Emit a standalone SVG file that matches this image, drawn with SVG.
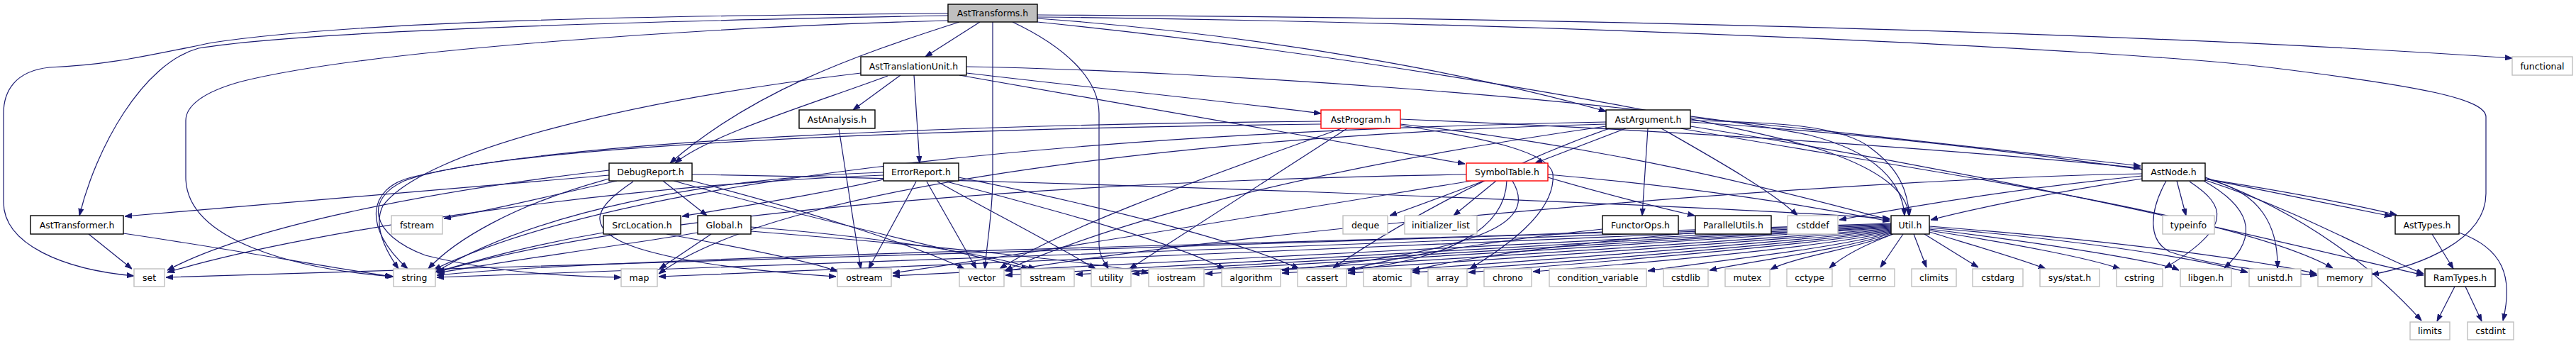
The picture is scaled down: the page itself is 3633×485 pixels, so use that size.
<svg xmlns="http://www.w3.org/2000/svg" width="3633" height="485" viewBox="0 0 3633 485">
<style>
.e{fill:none;stroke:#191970;stroke-width:1.2;marker-end:url(#a)}
.n rect{fill:#fff;stroke:#000;stroke-width:1.4}
.n.s rect{stroke:#bfbfbf}
.n.t rect{stroke:#ff0000}
.n.r rect{fill:#bfbfbf}
.n text{font-family:"DejaVu Sans","Liberation Sans",sans-serif;font-size:12.5px;text-anchor:middle;fill:#000}
</style>
<defs>
<marker id="a" markerWidth="10" markerHeight="8" refX="10" refY="4" orient="auto" markerUnits="userSpaceOnUse">
<path d="M0,0.5 L10,4 L0,7.5 z" fill="#191970" stroke="#191970" stroke-width="1"/>
</marker>
</defs>
<rect width="3633" height="485" fill="#fff"/>
<g id="edges">
<path class="e" d="M1382,31 L1305,80"/>
<path class="e" d="M1337,22 C1000,28 450,40 280,68 C200,90 135,210 112,304"/>
<path class="e" d="M1337,19 C900,22 500,30 300,60 C200,80 150,92 70,95 C20,100 5,130 5,160 L5,285 C5,345 90,380 189,389"/>
<path class="e" d="M1337,29 C1000,38 520,70 340,115 C285,130 262,150 262,170 L262,250 C262,340 420,380 555,390"/>
<path class="e" d="M1353,31 C1200,80 1060,130 945,230"/>
<path class="e" d="M1400,31 L1400,250 C1400,300 1392,340 1389,379"/>
<path class="e" d="M1428,31 C1500,65 1550,110 1550,160 L1550,345 C1550,360 1558,370 1563,379"/>
<path class="e" d="M1463,26 C1800,50 2100,110 2265,157"/>
<path class="e" d="M1463,31 C1900,75 2450,170 2580,215 C2650,240 2690,270 2692,304"/>
<path class="e" d="M1463,21 C2200,25 3000,45 3543,82"/>
<path class="e" d="M1463,24 C2200,32 3000,70 3200,95 C3420,122 3506,140 3506,165 L3506,273 C3506,340 3410,375 3345,387"/>
<path class="e" d="M1270,106 L1203,155"/>
<path class="e" d="M1289,106 L1297,230"/>
<path class="e" d="M1252,107 C1150,145 1000,190 952,230"/>
<path class="e" d="M1363,103 C1550,125 1750,145 1863,160"/>
<path class="e" d="M1353,106 C1600,150 1900,200 2066,231"/>
<path class="e" d="M1363,94 C1700,100 2300,140 2550,190 C2650,215 2683,260 2686,304"/>
<path class="e" d="M1214,103 C900,140 600,210 540,290 C525,320 545,355 562,379"/>
<path class="e" d="M1183,181 L1214,379"/>
<path class="e" d="M1863,171 C1400,175 800,195 580,250 C520,265 510,320 575,379"/>
<path class="e" d="M1863,175 C1300,182 700,205 570,255 C515,280 520,330 600,360 C700,385 800,390 876,391"/>
<path class="e" d="M1892,181 C1700,250 1500,320 1410,379"/>
<path class="e" d="M1900,181 L1593,379"/>
<path class="e" d="M1975,168 C2400,185 2800,215 3019,237"/>
<path class="e" d="M1975,175 C2300,210 2550,280 2665,310"/>
<path class="e" d="M1975,177 C2100,195 2185,215 2190,245 C2195,300 2120,350 2073,379"/>
<path class="e" d="M2093,255 C2040,275 2000,290 1960,304"/>
<path class="e" d="M2110,255 L2050,304"/>
<path class="e" d="M2125,255 C2123,320 2050,365 1901,381"/>
<path class="e" d="M2133,255 C2160,300 2140,350 1808,381"/>
<path class="e" d="M2183,250 C2250,270 2330,290 2390,304"/>
<path class="e" d="M2183,246 C2400,265 2550,290 2665,312"/>
<path class="e" d="M2068,246 C1500,255 900,300 616,384"/>
<path class="e" d="M2075,255 C1800,300 1500,350 1259,385"/>
<path class="e" d="M2391,328 C2200,345 2050,365 1992,382"/>
<path class="e" d="M2260,323 C2100,340 1950,365 1901,382"/>
<path class="e" d="M2260,327 C1800,345 900,360 616,388"/>
<path class="e" d="M2293,181 L2165,230"/>
<path class="e" d="M2324,181 L2316,304"/>
<path class="e" d="M2343,181 C2420,225 2500,270 2535,304"/>
<path class="e" d="M2384,166 C2600,185 2850,215 3019,234"/>
<path class="e" d="M2384,172 C2800,200 3200,260 3380,303"/>
<path class="e" d="M2384,170 C2500,172 2600,176 2640,210 C2680,240 2690,270 2693,304"/>
<path class="e" d="M2370,181 C2700,240 3150,300 3290,378"/>
<path class="e" d="M2384,178 C2900,260 3250,350 3418,388"/>
<path class="e" d="M2265,172 C1600,185 900,240 612,380"/>
<path class="e" d="M2265,175 C1700,190 1100,260 929,386"/>
<path class="e" d="M2265,178 C1900,230 1600,300 1418,381"/>
<path class="e" d="M2270,181 C2100,240 1950,330 1880,378"/>
<path class="e" d="M3021,252 C2900,270 2780,295 2723,310"/>
<path class="e" d="M3021,248 C2850,265 2700,290 2594,310"/>
<path class="e" d="M3070,255 L3083,304"/>
<path class="e" d="M3088,256 C3140,290 3150,320 3053,378"/>
<path class="e" d="M3108,255 C3170,290 3190,330 3137,378"/>
<path class="e" d="M3110,252 C3190,270 3213,320 3212,378"/>
<path class="e" d="M3055,255 C3030,300 3030,340 3060,355 C3120,375 3200,383 3268,388"/>
<path class="e" d="M3110,250 C3250,300 3350,380 3415,452"/>
<path class="e" d="M3110,252 C3200,270 3300,290 3373,305"/>
<path class="e" d="M3021,245 C2600,252 1800,320 1418,382"/>
<path class="e" d="M3430,330 L3460,379"/>
<path class="e" d="M3468,328 C3530,350 3545,390 3530,452"/>
<path class="e" d="M3462,404 L3437,453"/>
<path class="e" d="M3477,404 L3500,453"/>
<path class="e" d="M2670,330 C2630,345 2600,360 2580,378"/>
<path class="e" d="M2684,330 L2652,377"/>
<path class="e" d="M2699,330 L2717,377"/>
<path class="e" d="M2714,330 L2790,377"/>
<path class="e" d="M2721,327 C2780,345 2850,365 2885,379"/>
<path class="e" d="M2721,325 C2850,345 2950,365 2990,379"/>
<path class="e" d="M2721,323 C2900,345 3050,370 3073,381"/>
<path class="e" d="M2721,321 C2950,340 3100,365 3170,384"/>
<path class="e" d="M2721,319 C3000,340 3200,370 3267,386"/>
<path class="e" d="M2669,330 C2620,350 2530,362 2497,380"/>
<path class="e" d="M2667,329 C2600,352 2470,368 2411,381"/>
<path class="e" d="M2667,328 C2580,352 2400,370 2324,382"/>
<path class="e" d="M2667,327 C2560,350 2300,372 2162,383"/>
<path class="e" d="M2667,326 C2540,348 2200,374 2071,384"/>
<path class="e" d="M2667,325 C2520,346 2150,374 1992,384"/>
<path class="e" d="M2667,324 C2500,344 2050,376 1901,385"/>
<path class="e" d="M2667,323 C2480,342 1950,376 1808,385"/>
<path class="e" d="M2667,322 C2460,340 1850,377 1700,386"/>
<path class="e" d="M2667,321 C2440,338 1750,378 1597,386"/>
<path class="e" d="M2667,320 C2420,336 1680,378 1517,387"/>
<path class="e" d="M2667,319 C2400,334 1580,379 1418,388"/>
<path class="e" d="M2667,318 C2380,332 1450,380 1259,389"/>
<path class="e" d="M2667,317 C2360,330 1150,382 929,390"/>
<path class="e" d="M2667,316 C2340,328 850,384 616,391"/>
<path class="e" d="M2667,315 C2320,326 500,386 234,391"/>
<path class="e" d="M859,247 L176,305"/>
<path class="e" d="M870,255 C780,275 700,295 626,308"/>
<path class="e" d="M859,252 C720,290 640,340 604,379"/>
<path class="e" d="M859,240 C600,270 350,320 236,381"/>
<path class="e" d="M935,255 L997,304"/>
<path class="e" d="M893,256 C850,285 810,320 900,350 C980,375 1100,385 1179,390"/>
<path class="e" d="M950,255 C1150,310 1350,355 1450,379"/>
<path class="e" d="M976,255 C1150,300 1300,350 1360,379"/>
<path class="e" d="M976,246 C1500,255 2300,285 2665,308"/>
<path class="e" d="M1003,330 L930,379"/>
<path class="e" d="M984,328 C850,350 700,370 617,385"/>
<path class="e" d="M1059,320 C1250,335 1400,360 1460,379"/>
<path class="e" d="M1059,326 C1300,345 1550,370 1620,385"/>
<path class="e" d="M851,328 C750,345 680,365 617,383"/>
<path class="e" d="M940,330 C1050,350 1150,370 1181,383"/>
<path class="e" d="M1246,253 C1150,275 1050,290 962,305"/>
<path class="e" d="M1292,256 L1225,379"/>
<path class="e" d="M1307,256 L1377,379"/>
<path class="e" d="M1322,256 C1400,300 1480,340 1545,379"/>
<path class="e" d="M1335,256 C1500,300 1650,340 1727,379"/>
<path class="e" d="M1352,250 C1550,290 1750,340 1832,379"/>
<path class="e" d="M1246,243 C1000,250 750,300 614,384"/>
<path class="e" d="M1246,247 C900,260 450,320 236,384"/>
<path class="e" d="M174,329 C350,355 450,375 553,390"/>
<path class="e" d="M125,330 L186,379"/>
<path class="e" d="M3110,254 C3250,300 3350,360 3418,386"/>
</g>
<g id="n_AstTransforms" class="n r"><rect x="1337" y="6" width="126" height="25"/><text x="1400" y="23">AstTransforms.h</text></g>
<g id="n_AstTranslationUnit" class="n"><rect x="1214" y="80" width="149" height="26"/><text x="1288.5" y="98">AstTranslationUnit.h</text></g>
<g id="n_functional" class="n s"><rect x="3543" y="80" width="85" height="26"/><text x="3585.5" y="98">functional</text></g>
<g id="n_AstAnalysis" class="n"><rect x="1127" y="155" width="107" height="26"/><text x="1180.5" y="173">AstAnalysis.h</text></g>
<g id="n_AstProgram" class="n t"><rect x="1863" y="155" width="112" height="26"/><text x="1919" y="173">AstProgram.h</text></g>
<g id="n_AstArgument" class="n"><rect x="2265" y="155" width="119" height="26"/><text x="2324.5" y="173">AstArgument.h</text></g>
<g id="n_DebugReport" class="n"><rect x="859" y="230" width="117" height="25"/><text x="917.5" y="247">DebugReport.h</text></g>
<g id="n_ErrorReport" class="n"><rect x="1246" y="230" width="106" height="25"/><text x="1299" y="247">ErrorReport.h</text></g>
<g id="n_SymbolTable" class="n t"><rect x="2068" y="230" width="115" height="25"/><text x="2125.5" y="247">SymbolTable.h</text></g>
<g id="n_AstNode" class="n"><rect x="3021" y="230" width="89" height="25"/><text x="3065.5" y="247">AstNode.h</text></g>
<g id="n_AstTransformer" class="n"><rect x="43" y="304" width="131" height="26"/><text x="108.5" y="322">AstTransformer.h</text></g>
<g id="n_fstream" class="n s"><rect x="552" y="304" width="72" height="26"/><text x="588" y="322">fstream</text></g>
<g id="n_SrcLocation" class="n"><rect x="851" y="304" width="109" height="26"/><text x="905.5" y="322">SrcLocation.h</text></g>
<g id="n_Global" class="n"><rect x="984" y="304" width="75" height="26"/><text x="1021.5" y="322">Global.h</text></g>
<g id="n_deque" class="n s"><rect x="1894" y="304" width="63" height="26"/><text x="1925.5" y="322">deque</text></g>
<g id="n_initializer_list" class="n s"><rect x="1981" y="304" width="102" height="26"/><text x="2032" y="322">initializer_list</text></g>
<g id="n_FunctorOps" class="n"><rect x="2260" y="304" width="107" height="26"/><text x="2313.5" y="322">FunctorOps.h</text></g>
<g id="n_ParallelUtils" class="n"><rect x="2391" y="304" width="107" height="26"/><text x="2444.5" y="322">ParallelUtils.h</text></g>
<g id="n_cstddef" class="n s"><rect x="2521" y="304" width="71" height="26"/><text x="2556.5" y="322">cstddef</text></g>
<g id="n_Util" class="n"><rect x="2667" y="304" width="54" height="26"/><text x="2694" y="322">Util.h</text></g>
<g id="n_typeinfo" class="n s"><rect x="3050" y="304" width="73" height="26"/><text x="3086.5" y="322">typeinfo</text></g>
<g id="n_AstTypes" class="n"><rect x="3378" y="304" width="90" height="26"/><text x="3423" y="322">AstTypes.h</text></g>
<g id="n_set" class="n s"><rect x="189" y="379" width="43" height="25"/><text x="210.5" y="396">set</text></g>
<g id="n_string" class="n s"><rect x="555" y="379" width="59" height="25"/><text x="584.5" y="396">string</text></g>
<g id="n_map" class="n s"><rect x="876" y="379" width="51" height="25"/><text x="901.5" y="396">map</text></g>
<g id="n_ostream" class="n s"><rect x="1181" y="379" width="76" height="25"/><text x="1219" y="396">ostream</text></g>
<g id="n_vector" class="n s"><rect x="1353" y="379" width="63" height="25"/><text x="1384.5" y="396">vector</text></g>
<g id="n_sstream" class="n s"><rect x="1440" y="379" width="75" height="25"/><text x="1477.5" y="396">sstream</text></g>
<g id="n_utility" class="n s"><rect x="1539" y="379" width="56" height="25"/><text x="1567" y="396">utility</text></g>
<g id="n_iostream" class="n s"><rect x="1620" y="379" width="78" height="25"/><text x="1659" y="396">iostream</text></g>
<g id="n_algorithm" class="n s"><rect x="1723" y="379" width="83" height="25"/><text x="1764.5" y="396">algorithm</text></g>
<g id="n_cassert" class="n s"><rect x="1830" y="379" width="69" height="25"/><text x="1864.5" y="396">cassert</text></g>
<g id="n_atomic" class="n s"><rect x="1923" y="379" width="67" height="25"/><text x="1956.5" y="396">atomic</text></g>
<g id="n_array" class="n s"><rect x="2014" y="379" width="55" height="25"/><text x="2041.5" y="396">array</text></g>
<g id="n_chrono" class="n s"><rect x="2093" y="379" width="67" height="25"/><text x="2126.5" y="396">chrono</text></g>
<g id="n_condition_variable" class="n s"><rect x="2185" y="379" width="137" height="25"/><text x="2253.5" y="396">condition_variable</text></g>
<g id="n_cstdlib" class="n s"><rect x="2346" y="379" width="63" height="25"/><text x="2377.5" y="396">cstdlib</text></g>
<g id="n_mutex" class="n s"><rect x="2433" y="379" width="63" height="25"/><text x="2464.5" y="396">mutex</text></g>
<g id="n_cctype" class="n s"><rect x="2520" y="379" width="64" height="25"/><text x="2552" y="396">cctype</text></g>
<g id="n_cerrno" class="n s"><rect x="2609" y="379" width="63" height="25"/><text x="2640.5" y="396">cerrno</text></g>
<g id="n_climits" class="n s"><rect x="2696" y="379" width="63" height="25"/><text x="2727.5" y="396">climits</text></g>
<g id="n_cstdarg" class="n s"><rect x="2782" y="379" width="71" height="25"/><text x="2817.5" y="396">cstdarg</text></g>
<g id="n_sys_stat" class="n s"><rect x="2877" y="379" width="84" height="25"/><text x="2919" y="396">sys/stat.h</text></g>
<g id="n_cstring" class="n s"><rect x="2985" y="379" width="65" height="25"/><text x="3017.5" y="396">cstring</text></g>
<g id="n_libgen" class="n s"><rect x="3075" y="379" width="72" height="25"/><text x="3111" y="396">libgen.h</text></g>
<g id="n_unistd" class="n s"><rect x="3172" y="379" width="73" height="25"/><text x="3208.5" y="396">unistd.h</text></g>
<g id="n_memory" class="n s"><rect x="3269" y="379" width="76" height="25"/><text x="3307" y="396">memory</text></g>
<g id="n_RamTypes" class="n"><rect x="3420" y="379" width="99" height="25"/><text x="3469.5" y="396">RamTypes.h</text></g>
<g id="n_limits" class="n s"><rect x="3399" y="454" width="56" height="25"/><text x="3427" y="471">limits</text></g>
<g id="n_cstdint" class="n s"><rect x="3480" y="454" width="65" height="25"/><text x="3512.5" y="471">cstdint</text></g>
</svg>
